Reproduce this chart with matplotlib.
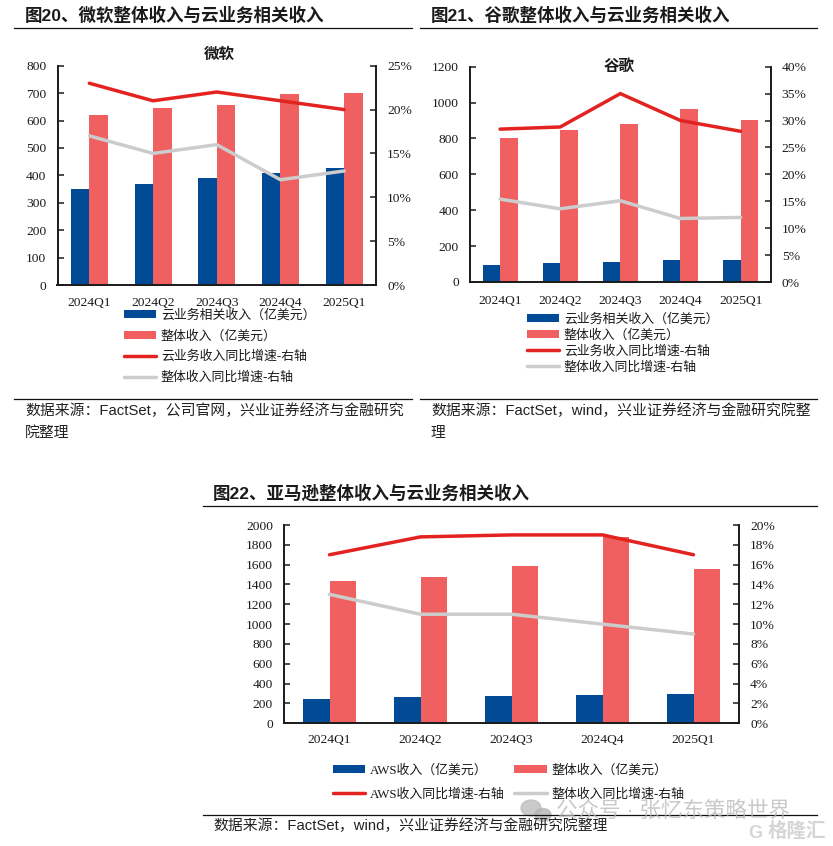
import matplotlib
matplotlib.use('Agg')

import matplotlib.pyplot as plt
from matplotlib.patches import Ellipse
from matplotlib.lines import Line2D
import numpy as np

W, H = 833, 846
SANS = ['Liberation Sans', 'Noto Sans CJK SC']
SERIF = ['Liberation Serif', 'Noto Sans CJK SC']
BLUE = '#004A96'
PINK = '#F06060'
RED = '#E3231F'
GRAY = '#CCCCCC'
DARK = '#1A1A1A'

quarters = ['2024Q1', '2024Q2', '2024Q3', '2024Q4', '2025Q1']

# microsoft
ms_cloud = [350, 368, 389, 410, 425]
ms_total = [619, 647, 656, 697, 702]
ms_cloud_yoy = [23, 21, 22, 21, 20]
ms_total_yoy = [17, 15, 16, 12, 13]
ms_left_ticks = [0, 100, 200, 300, 400, 500, 600, 700, 800]
ms_right_ticks = [0, 5, 10, 15, 20, 25]

# google
gg_cloud = [96, 104, 113, 120, 123]
gg_total = [805, 848, 882, 965, 902]
gg_cloud_yoy = [28.4, 28.8, 35, 30, 28]
gg_total_yoy = [15.4, 13.6, 15.1, 11.8, 12]
gg_left_ticks = [0, 200, 400, 600, 800, 1000, 1200]
gg_right_ticks = [0, 5, 10, 15, 20, 25, 30, 35, 40]

# amazon
am_cloud = [250, 263, 273, 288, 293]
am_total = [1432, 1478, 1589, 1877, 1557]
am_cloud_yoy = [17, 18.8, 19, 19, 17]
am_total_yoy = [13, 11, 11, 10, 9]
am_left_ticks = [0, 200, 400, 600, 800, 1000, 1200, 1400, 1600, 1800, 2000]
am_right_ticks = [0, 2, 4, 6, 8, 10, 12, 14, 16, 18, 20]

cloud_labels = ['云业务相关收入（亿美元）', '整体收入（亿美元）',
                '云业务收入同比增速-右轴', '整体收入同比增速-右轴']
aws_labels = ['AWS收入（亿美元）', '整体收入（亿美元）',
              'AWS收入同比增速-右轴', '整体收入同比增速-右轴']

fig = plt.figure(figsize=(W / 100, H / 100), dpi=100, facecolor='white')


def px_text(x, y, s, size, **kw):
    kw.setdefault('family', SANS)
    kw.setdefault('va', 'center')
    kw.setdefault('color', DARK)
    return fig.text(x / W, 1 - y / H, s, fontsize=size, **kw)


def px_rule(x0, x1, y):
    fig.add_artist(Line2D([x0 / W, x1 / W], [1 - y / H, 1 - y / H], color='#111111', lw=0.9))


def draw_chart(box, cloud, total, cloud_yoy, total_yoy, left_ticks, right_ticks,
               labels, legend_xy, legend_cols, row_gap, xpad):
    x0, x1, y0, y1 = box
    ax = fig.add_axes([x0 / W, 1 - y1 / H, (x1 - x0) / W, (y1 - y0) / H])
    ind = np.arange(len(quarters))
    width = 0.29
    b1 = ax.bar(ind - width / 2, cloud, width, color=BLUE)
    b2 = ax.bar(ind + width / 2, total, width, color=PINK)
    ax.set_xlim(-0.5, len(quarters) - 0.5)
    ax.set_ylim(left_ticks[0], left_ticks[-1])
    ax.set_xticks(ind)
    ax.set_xticklabels(quarters, family=SERIF, fontsize=9.7, color=DARK)
    ax.set_yticks(left_ticks)
    ax.set_yticklabels([str(v) for v in left_ticks], family=SERIF, fontsize=9.7, color=DARK)
    ax.tick_params(axis='x', length=0, pad=xpad)
    ax.tick_params(axis='y', direction='in', length=4, width=1.1, pad=8, color=DARK)

    ax2 = ax.twinx()
    l1, = ax2.plot(ind, cloud_yoy, color=RED, lw=2.5, solid_capstyle='round', solid_joinstyle='miter')
    l2, = ax2.plot(ind, total_yoy, color=GRAY, lw=2.5, solid_capstyle='round', solid_joinstyle='miter')
    ax2.set_ylim(right_ticks[0], right_ticks[-1])
    ax2.set_yticks(right_ticks)
    ax2.set_yticklabels(['%d%%' % v for v in right_ticks], family=SERIF, fontsize=9.7, color=DARK)
    ax2.tick_params(axis='y', direction='in', length=4, width=1.1, pad=8, color=DARK)

    for a in (ax, ax2):
        a.spines['top'].set_visible(False)
        for side in ('left', 'right', 'bottom'):
            a.spines[side].set_linewidth(1.2)
            a.spines[side].set_color(DARK)

    if legend_cols == 2:
        handles = [b1, l1, b2, l2]
        names = [labels[0], labels[2], labels[1], labels[3]]
    else:
        handles = [b1, b2, l1, l2]
        names = labels
    size = 9.3
    fig.legend(handles, names, loc='upper left',
               bbox_to_anchor=(legend_xy[0] / W, 1 - legend_xy[1] / H),
               ncol=legend_cols, frameon=False, borderpad=0, borderaxespad=0,
               handlelength=2.5, handleheight=0.6, handletextpad=0.35,
               columnspacing=0.75, labelspacing=row_gap / (size * 100 / 72) - 1,
               prop={'family': SERIF, 'size': size}, labelcolor=DARK)


# headers and rules
px_text(25, 15, '图20、微软整体收入与云业务相关收入', 12.6, fontweight='bold')
px_text(431, 15, '图21、谷歌整体收入与云业务相关收入', 12.6, fontweight='bold')
px_text(213, 493, '图22、亚马逊整体收入与云业务相关收入', 12.6, fontweight='bold')
px_rule(14, 412, 28)
px_rule(420, 817, 28)
px_rule(203, 817, 506)
px_rule(14, 412, 399)
px_rule(420, 817, 399)
px_rule(203, 817, 815)

draw_chart((57.5, 376, 65.7, 285), ms_cloud, ms_total, ms_cloud_yoy, ms_total_yoy,
           ms_left_ticks, ms_right_ticks, cloud_labels, (124, 309), 1, 21.2, 9)
draw_chart((470, 770.7, 66.7, 282), gg_cloud, gg_total, gg_cloud_yoy, gg_total_yoy,
           gg_left_ticks, gg_right_ticks, cloud_labels, (527, 313), 1, 16.4, 9)
draw_chart((284, 739, 525, 723.3), am_cloud, am_total, am_cloud_yoy, am_total_yoy,
           am_left_ticks, am_right_ticks, aws_labels, (333, 764), 2, 24.5, 7.5)

px_text(219, 54, '微软', 11.2, fontweight='bold', ha='center', zorder=5)
px_text(619, 66, '谷歌', 11.2, fontweight='bold', ha='center', zorder=5)

# source notes
px_text(25, 411, '数据来源：FactSet，公司官网，兴业证券经济与金融研究', 10.7, color='#222222')
px_text(25, 433, '院整理', 10.7, color='#222222')
px_text(431, 411, '数据来源：FactSet，wind，兴业证券经济与金融研究院整', 10.7, color='#222222')
px_text(431, 433, '理', 10.7, color='#222222')
px_text(213, 826, '数据来源：FactSet，wind，兴业证券经济与金融研究院整理', 10.7, color='#222222')

# watermark
fig.add_artist(Ellipse((531 / W, 1 - 808 / H), 20 / W, 16 / H, color='#BDBDBD', alpha=0.8))
fig.add_artist(Ellipse((543 / W, 1 - 815 / H), 16 / W, 13 / H, color='#B5B5B5', alpha=0.8))
px_text(556, 811, '公众号 · 张忆东策略世界', 15.5, color='#B8B8B8', alpha=0.75, zorder=6)
px_text(748, 833, 'G', 13, color='#C4C4C4', alpha=0.7, fontweight='bold', zorder=6)
px_text(768, 831, '格隆汇', 14, color='#C4C4C4', alpha=0.7, fontweight='bold', zorder=6)

plt.savefig('out.png', dpi=100)
